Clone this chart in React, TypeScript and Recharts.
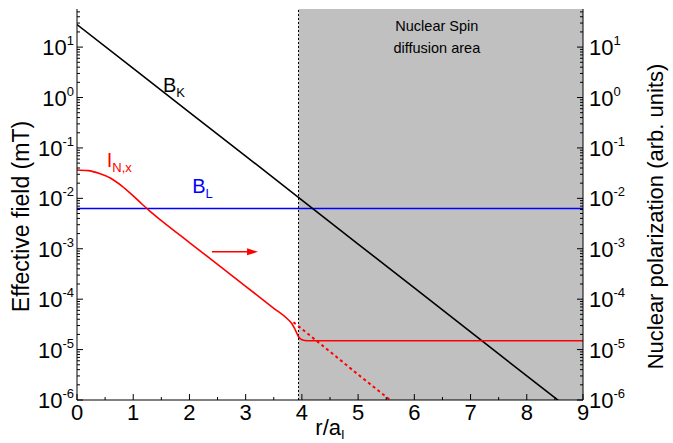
import { ComposedChart, Line, XAxis, YAxis, ReferenceArea, ReferenceLine, ReferenceDot } from 'recharts';

// B_K : exchange field, straight line in log scale
const bkX = [0, 1, 2, 3, 4, 5, 6, 7, 8, 9];
const bkY = [28, 3.8, 0.51, 0.069, 0.0092, 0.00124, 1.67e-4, 2.25e-5, 3.0e-6, 4.1e-7];

// B_L : constant field
const blX = [0, 9];
const blY = [0.0063, 0.0063];

// I_N,x : nuclear polarization (solid)
const inX = [0, 0.2, 0.4, 0.6, 0.8, 1.0, 1.15, 1.3, 1.5, 2, 2.5, 3, 3.5, 3.75, 3.82, 3.88, 3.94, 4.0, 4.1, 5, 6, 7, 8, 9];
const inY = [0.0366, 0.0355, 0.031, 0.025, 0.0175, 0.0112, 0.0078, 0.0055, 0.00363, 0.00133, 4.9e-4, 1.8e-4, 6.6e-5, 4.0e-5, 3.3e-5, 2.5e-5, 1.8e-5, 1.57e-5, 1.5e-5, 1.5e-5, 1.5e-5, 1.5e-5, 1.5e-5, 1.5e-5];

// I_N,x without diffusion (dotted)
const inDashX = [3.85, 4.5, 5, 5.57];
const inDashY = [3.5e-5, 9.1e-6, 3.2e-6, 1.0e-6];

const xMajor = [0, 1, 2, 3, 4, 5, 6, 7, 8, 9];
const xMinor = [0.5, 1.5, 2.5, 3.5, 4.5, 5.5, 6.5, 7.5, 8.5];
const yMajor = [1e-6, 1e-5, 1e-4, 1e-3, 1e-2, 1e-1, 1, 10];
const yMult = [2, 3, 4, 5, 6, 7, 8, 9];
const yTopMinor = [20, 30, 40, 50];
const yDomain = [1e-6, 57];
const diffusionStart = 3.94;

const toPts = (xs: number[], ys: number[]) => xs.map((x, i) => ({ x, y: ys[i] }));
const bk = toPts(bkX, bkY);
const bl = toPts(blX, blY);
const inx = toPts(inX, inY);
const inDash = toPts(inDashX, inDashY);

const yTicks = [
  ...yMajor,
  ...yMajor.slice(0, -1).flatMap((d) => yMult.map((m) => m * d)),
  ...yTopMinor,
].sort((a, b) => a - b);
const xTicks = [...xMajor, ...xMinor].sort((a, b) => a - b);

const FONT = 'Liberation Sans, Arial, sans-serif';

const isMajorY = (v: number) => yMajor.some((m) => Math.abs(v / m - 1) < 1e-6);

const Pow = ({ x, y, v, anchor }: any) => (
  <text x={x} y={y} dy={8} textAnchor={anchor} fontFamily={FONT} fill="#000">
    <tspan fontSize={22}>10</tspan>
    <tspan fontSize={13} dy={-10}>{Math.round(Math.log10(v))}</tspan>
  </text>
);

const LeftTick = ({ x, y, payload }: any) => {
  const major = isMajorY(payload.value);
  return (
    <g>
      <line x1={x} y1={y} x2={x + (major ? 6 : 3)} y2={y} stroke="#000" />
      {major && <Pow x={x - 3} y={y} v={payload.value} anchor="end" />}
    </g>
  );
};

const RightTick = ({ x, y, payload }: any) => {
  const major = isMajorY(payload.value);
  return (
    <g>
      <line x1={x} y1={y} x2={x - (major ? 6 : 3)} y2={y} stroke="#000" />
      {major && <Pow x={x + 6} y={y} v={payload.value} anchor="start" />}
    </g>
  );
};

const BottomTick = ({ x, y, payload }: any) => {
  const major = xMajor.includes(payload.value);
  return (
    <g>
      <line x1={x} y1={y} x2={x} y2={y - (major ? 6 : 3)} stroke="#000" />
      {major && (
        <text x={x} y={y + 20} textAnchor="middle" fontSize={22} fontFamily={FONT} fill="#000">
          {payload.value}
        </text>
      )}
    </g>
  );
};

const SubLabel = (main: string, sub: string, color: string) => (p: any) => (
  <text x={p.cx} y={p.cy} fontFamily={FONT} fill={color}>
    <tspan fontSize={20}>{main}</tspan>
    <tspan fontSize={13} dy={5}>{sub}</tspan>
  </text>
);

const CenterText = (txt: string) => (p: any) => (
  <text x={p.cx} y={p.cy} textAnchor="middle" fontSize={14.5} fontFamily={FONT} fill="#000">
    {txt}
  </text>
);

const Arrow = (p: any) => (
  <g>
    <line x1={p.x1} y1={p.y1} x2={p.x2 - 8} y2={p.y2} stroke="#ff0000" strokeWidth={1.5} />
    <polygon points={`${p.x2},${p.y2} ${p.x2 - 11},${p.y2 - 3.5} ${p.x2 - 11},${p.y2 + 3.5}`} fill="#ff0000" />
  </g>
);

export default function App() {
  return (
    <div style={{ position: 'absolute', left: 0, top: 0 }}>
      <ComposedChart width={673} height={443} margin={{ top: 9, right: 30, bottom: 13, left: 17 }}>
        <XAxis
          type="number"
          dataKey="x"
          domain={[0, 9]}
          ticks={xTicks}
          interval={0}
          tickSize={0}
          tickMargin={0}
          tickLine={false}
          tick={<BottomTick />}
          height={30}
          axisLine={{ stroke: '#000' }}
          allowDataOverflow
          label={{
            content: ({ viewBox }: any) => (
              <text x={viewBox.x + viewBox.width / 2} y={viewBox.y + 35} textAnchor="middle" fontFamily={FONT} fill="#000">
                <tspan fontSize={22}>r/a</tspan>
                <tspan fontSize={13} dy={4}>I</tspan>
              </text>
            ),
          }}
        />
        <XAxis xAxisId="top" orientation="top" type="number" domain={[0, 9]} height={0} tick={false} tickLine={false} axisLine={{ stroke: '#000' }} />
        <YAxis
          yAxisId="left"
          scale="log"
          type="number"
          domain={yDomain}
          allowDataOverflow
          ticks={yTicks}
          interval={0}
          tickSize={0}
          tickMargin={0}
          tickLine={false}
          tick={<LeftTick />}
          width={60}
          axisLine={{ stroke: '#000' }}
          label={{
            content: ({ viewBox }: any) => (
              <text
                x={viewBox.x + 4}
                y={viewBox.y + viewBox.height / 2 + 12}
                transform={`rotate(-90 ${viewBox.x + 4} ${viewBox.y + viewBox.height / 2 + 12})`}
                textAnchor="middle"
                dominantBaseline="central"
                fontSize={23}
                fontFamily={FONT}
                fill="#000"
              >
                Effective field (mT)
              </text>
            ),
          }}
        />
        <YAxis
          yAxisId="right"
          orientation="right"
          scale="log"
          type="number"
          domain={yDomain}
          allowDataOverflow
          ticks={yTicks}
          interval={0}
          tickSize={0}
          tickMargin={0}
          tickLine={false}
          tick={<RightTick />}
          width={60}
          axisLine={{ stroke: '#000' }}
          label={{
            content: ({ viewBox }: any) => (
              <text
                x={viewBox.x + 72}
                y={viewBox.y + viewBox.height / 2 + 12}
                transform={`rotate(-90 ${viewBox.x + 72} ${viewBox.y + viewBox.height / 2 + 12})`}
                textAnchor="middle"
                dominantBaseline="central"
                fontSize={22}
                fontFamily={FONT}
                fill="#000"
              >
                Nuclear polarization (arb. units)
              </text>
            ),
          }}
        />

        <ReferenceArea yAxisId="left" x1={diffusionStart} x2={9} fill="#c0c0c0" fillOpacity={1} stroke="none" />
        <ReferenceLine yAxisId="left" x={diffusionStart} stroke="#000" strokeDasharray="2 2" strokeWidth={1} />

        <Line yAxisId="left" data={bl} dataKey="y" type="linear" stroke="#0000ff" strokeWidth={1.6} dot={false} isAnimationActive={false} />
        <Line yAxisId="left" data={bk} dataKey="y" type="linear" stroke="#000" strokeWidth={1.6} dot={false} isAnimationActive={false} />
        <Line yAxisId="left" data={inDash} dataKey="y" type="linear" stroke="#ff0000" strokeWidth={2} strokeDasharray="3 3" dot={false} isAnimationActive={false} />
        <Line yAxisId="left" data={inx} dataKey="y" type="monotone" stroke="#ff0000" strokeWidth={1.6} dot={false} isAnimationActive={false} />

        <ReferenceLine yAxisId="left" segment={[{ x: 2.4, y: 8.7e-4 }, { x: 3.22, y: 8.7e-4 }]} shape={Arrow} />

        <ReferenceDot yAxisId="left" x={1.53} y={1.3} r={0} shape={SubLabel('B', 'K', '#000')} />
        <ReferenceDot yAxisId="left" x={0.53} y={0.042} r={0} shape={SubLabel('I', 'N,x', '#ff0000')} />
        <ReferenceDot yAxisId="left" x={2.05} y={0.0128} r={0} shape={SubLabel('B', 'L', '#0000ff')} />
        <ReferenceDot yAxisId="left" x={6.4} y={20.5} r={0} shape={CenterText('Nuclear Spin')} />
        <ReferenceDot yAxisId="left" x={6.4} y={7.8} r={0} shape={CenterText('diffusion area')} />
      </ComposedChart>
    </div>
  );
}
